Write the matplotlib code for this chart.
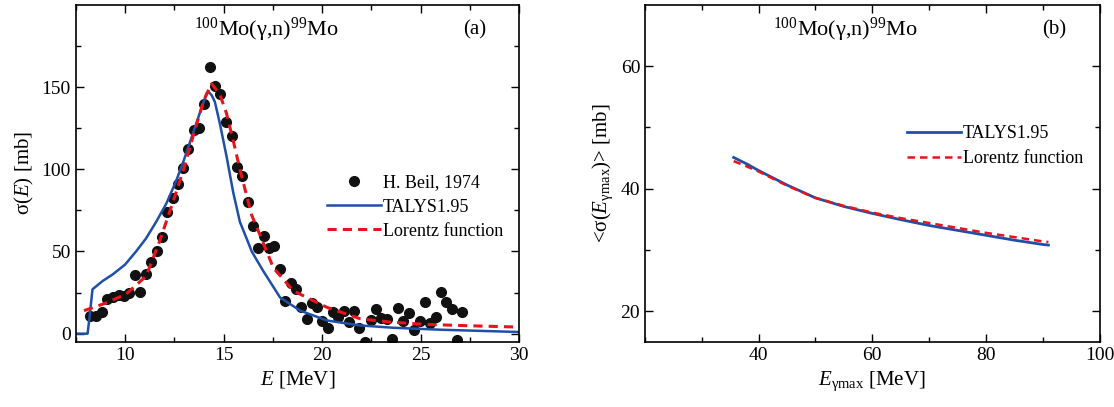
import numpy as np
import matplotlib
matplotlib.use("Agg")
import matplotlib.pyplot as plt

plt.rcParams['font.family'] = ['Liberation Serif', 'DejaVu Serif']
plt.rcParams['mathtext.fontset'] = 'custom'
plt.rcParams['mathtext.rm'] = 'Liberation Serif'
plt.rcParams['mathtext.it'] = 'Liberation Serif:italic'

# (a) measured points, H. Beil 1974
beil_e = [8.23, 8.55, 8.83, 9.08, 9.37, 9.67, 9.93, 10.18, 10.49, 10.75, 11.04,
          11.34, 11.60, 11.89, 12.14, 12.43, 12.67, 12.94, 13.21, 13.48, 13.76,
          14.03, 14.30, 14.56, 14.83, 15.12, 15.41, 15.66, 15.93, 16.24, 16.48,
          16.77, 17.04, 17.31, 17.58, 17.86, 18.13, 18.40, 18.69, 18.91, 19.24,
          19.49, 19.75, 20.02, 20.28, 20.56, 20.82, 21.10, 21.38, 21.63, 21.89,
          22.19, 22.47, 22.72, 23.01, 23.32, 23.57, 23.84, 24.11, 24.39, 24.66,
          24.95, 25.22, 25.47, 25.77, 26.02, 26.29, 26.58, 26.86, 27.12]
beil_s = [10.6, 10.6, 13.0, 21.0, 22.6, 23.4, 23.0, 24.8, 35.6, 25.6, 36.0,
          43.6, 50.4, 58.6, 74.0, 82.6, 91.0, 101.0, 112.2, 123.6, 125.4,
          139.6, 162.0, 150.4, 145.8, 128.6, 120.4, 101.4, 95.8, 80.0, 65.6,
          52.4, 59.6, 52.4, 53.6, 39.6, 19.6, 30.6, 27.0, 16.0, 9.0,
          18.4, 16.0, 8.0, 3.6, 13.0, 10.0, 14.0, 7.0, 14.0, 3.4,
          -5.0, 8.6, 15.0, 9.6, 9.0, -3.0, 15.6, 7.6, 12.4, 2.0,
          8.0, 19.0, 6.4, 10.0, 25.4, 19.0, 15.0, -3.6, 13.4]

# (a) TALYS1.95
talys_e = [7.5, 8.1, 8.2, 8.35, 8.86, 9.37, 10.0, 10.56, 11.07, 11.58, 12.09,
           12.6, 13.0, 13.48, 13.9, 14.15, 14.25, 14.4, 14.56, 14.81, 15.15, 15.49,
           15.83, 16.2, 16.43, 17.02, 17.87, 18.89, 20.25, 21.95, 23.6, 26.0, 30.0]
talys_s = [0.0, 0.0, 10.0, 27.0, 32.0, 36.0, 42.0, 50.0, 58.0, 68.0, 79.0,
           93.0, 106.0, 123.0, 138.0, 146.4, 147.0, 145.0, 141.0, 128.0, 108.0, 86.0,
           68.0, 57.0, 50.0, 38.0, 22.0, 14.0, 8.0, 5.0, 3.6, 2.4, 1.0]

# (a) Lorentz function
lor_e = [7.92, 9.0, 10.05, 11.07, 11.75, 12.43, 13.0, 13.5, 14.0, 14.39,
         14.8, 15.15, 15.5, 15.83, 16.43, 16.85, 17.53, 18.55, 20.25, 21.95,
         23.5, 25.35, 27.5, 30.0]
lor_s = [14.0, 18.5, 24.0, 35.0, 56.0, 80.0, 101.0, 122.0, 142.0, 152.0,
         146.0, 134.0, 117.0, 100.0, 72.0, 60.0, 40.0, 26.0, 16.0, 9.0,
         7.0, 5.6, 4.8, 4.0]

# (b) flux-averaged cross sections
emax = [35.6, 38.0, 40.0, 45.0, 50.0, 55.0, 60.0, 65.0, 70.0, 75.0, 80.0, 85.0, 90.0, 91.0]
avg_talys = [45.1, 44.0, 42.96, 40.6, 38.5, 37.1, 35.97, 34.95, 34.0, 33.2, 32.4, 31.6, 30.9, 30.8]
avg_lor = [44.5, 43.6, 42.8, 40.5, 38.5, 37.2, 36.1, 35.2, 34.4, 33.6, 32.8, 32.1, 31.4, 31.3]

blue = '#1f4fa8'
red = '#e8141b'
title = '$^{100}$Mo(γ,n)$^{99}$Mo'

fig = plt.figure(figsize=(11.14, 4.07), dpi=100)
ax1 = fig.add_axes([0.068, 0.160, 0.398, 0.828])
ax2 = fig.add_axes([0.579, 0.160, 0.408, 0.828])

ax1.plot(beil_e, beil_s, 'o', color='#111111', ms=7, label='H. Beil, 1974')
ax1.plot(talys_e, talys_s, '-', color=blue, lw=1.8, label='TALYS1.95')
ax1.plot(lor_e, lor_s, '--', color=red, lw=2.2, dashes=(3, 2), label='Lorentz function')
ax1.set_xlim(7.5, 30)
ax1.set_ylim(-5, 200)
ax1.set_xticks([10, 15, 20, 25, 30])
ax1.set_yticks([0, 50, 100, 150])
ax1.set_xlabel('$E$ [MeV]', fontsize=15)
ax1.set_ylabel('σ($E$) [mb]', fontsize=15)
ax1.text(0.43, 0.925, title, transform=ax1.transAxes, ha='center', va='center', fontsize=16)
ax1.text(0.90, 0.925, '(a)', transform=ax1.transAxes, ha='center', va='center', fontsize=15)
ax1.legend(loc='center right', bbox_to_anchor=(1.0, 0.40), frameon=False, fontsize=13,
           handlelength=3.0, handletextpad=0.1, labelspacing=0.4)

ax2.plot(emax, avg_talys, '-', color=blue, lw=2.0, label='TALYS1.95')
ax2.plot(emax, avg_lor, '--', color=red, lw=1.8, dashes=(3, 2), label='Lorentz function')
ax2.set_xlim(20, 100)
ax2.set_ylim(15, 70)
ax2.set_xticks([40, 60, 80, 100])
ax2.set_yticks([20, 40, 60])
ax2.set_xlabel('$E_{\\mathrm{γmax}}$ [MeV]', fontsize=15)
ax2.set_ylabel('<σ($E_{\\mathrm{γmax}}$)> [mb]', fontsize=15)
ax2.text(0.44, 0.925, title, transform=ax2.transAxes, ha='center', va='center', fontsize=16)
ax2.text(0.90, 0.925, '(b)', transform=ax2.transAxes, ha='center', va='center', fontsize=15)
ax2.legend(loc='center right', bbox_to_anchor=(1.0, 0.58), frameon=False, fontsize=13,
           handlelength=3.0, handletextpad=0.1, labelspacing=0.45)

ax1.set_xticks(np.arange(7.5, 30.1, 2.5), minor=True)
ax1.set_yticks(np.arange(0, 200, 25), minor=True)
ax2.set_xticks(np.arange(20, 101, 10), minor=True)
ax2.set_yticks(np.arange(20, 70, 10), minor=True)
for ax in (ax1, ax2):
    ax.tick_params(which='both', direction='in', top=True, right=True, labelsize=14)
    ax.tick_params(which='major', length=6, width=1.0)
    ax.tick_params(which='minor', length=3.5, width=1.0)
    for s in ax.spines.values():
        s.set_linewidth(1.2)

fig.savefig('out.png', dpi=100)
